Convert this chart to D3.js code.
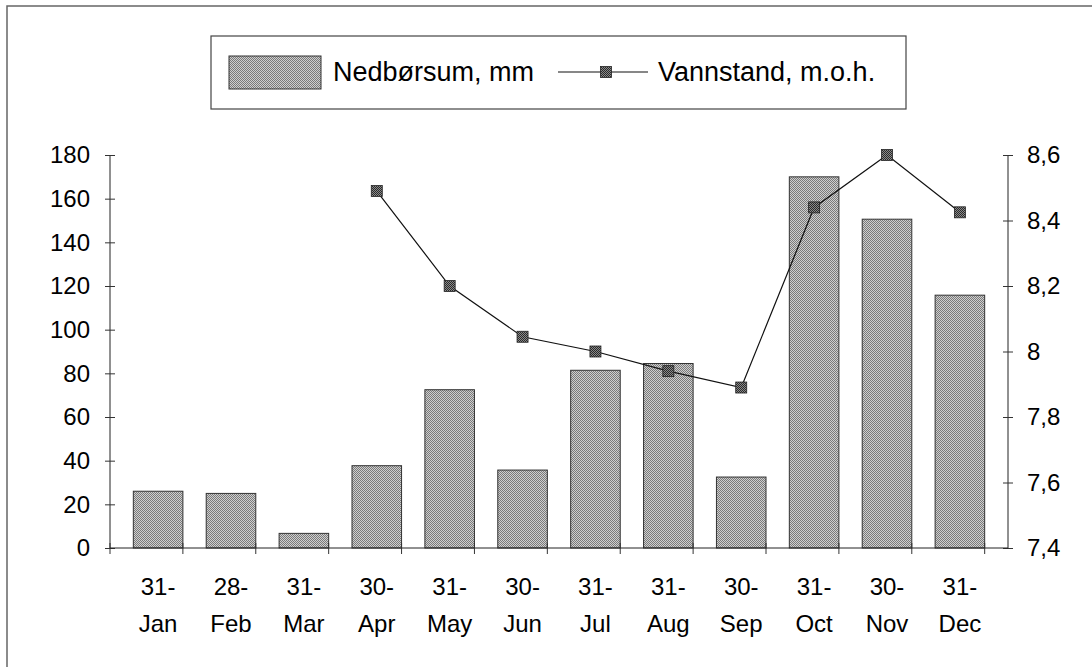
<!DOCTYPE html>
<html>
<head>
<meta charset="utf-8">
<script src="https://cdn.jsdelivr.net/npm/d3@7"></script>
<style>
  body { margin: 0; background: #fff; }
  svg { display: block; font-family: "Liberation Sans", Arial, sans-serif; }
</style>
</head>
<body>
<div id="chart"></div>
<script>
// Datos del gráfico
const categories = ["31-Jan", "28-Feb", "31-Mar", "30-Apr", "31-May", "30-Jun",
                    "31-Jul", "31-Aug", "30-Sep", "31-Oct", "30-Nov", "31-Dec"];
const precipitation = [26, 25, 6.7, 37.7, 72.5, 35.7, 81.4, 84.5, 32.5, 170, 150.6, 115.8];
const waterLevel = [null, null, null, 8.49, 8.20, 8.045, 8.0, 7.94, 7.89, 8.44, 8.60, 8.425];
const leftTicks = [0, 20, 40, 60, 80, 100, 120, 140, 160, 180];
const rightTicks = [7.4, 7.6, 7.8, 8.0, 8.2, 8.4, 8.6];
const seriesNames = ["Nedbørsum, mm", "Vannstand, m.o.h."];

const W = 1092, H = 667;
const plot = { left: 110, right: 1008, top: 155, bottom: 548 };

const svg = d3.select("#chart")
    .append("svg")
    .attr("width", W)
    .attr("height", H);

// Patrón gris tramado para las barras y marcadores
const defs = svg.append("defs");
const barPat = defs.append("pattern")
    .attr("id", "barFill")
    .attr("patternUnits", "userSpaceOnUse")
    .attr("width", 2).attr("height", 2);
barPat.append("rect").attr("width", 2).attr("height", 2).attr("fill", "#cfcfcf");
barPat.append("rect").attr("width", 1).attr("height", 1).attr("fill", "#7a7a7a");
barPat.append("rect").attr("x", 1).attr("y", 1).attr("width", 1).attr("height", 1).attr("fill", "#7a7a7a");

const markPat = defs.append("pattern")
    .attr("id", "markFill")
    .attr("patternUnits", "userSpaceOnUse")
    .attr("width", 2).attr("height", 2);
markPat.append("rect").attr("width", 2).attr("height", 2).attr("fill", "#8a8a8a");
markPat.append("rect").attr("width", 1).attr("height", 1).attr("fill", "#2a2a2a");
markPat.append("rect").attr("x", 1).attr("y", 1).attr("width", 1).attr("height", 1).attr("fill", "#2a2a2a");

svg.append("rect").attr("width", W).attr("height", H).attr("fill", "#fff");

// Marco exterior (sólo se ven los bordes izquierdo y superior)
svg.append("rect")
    .attr("x", 7).attr("y", 6)
    .attr("width", W + 20).attr("height", H + 20)
    .attr("fill", "none")
    .attr("stroke", "#666")
    .attr("stroke-width", 1.5);

// Escalas
const x = d3.scaleBand()
    .domain(categories)
    .range([plot.left, plot.right])
    .padding(0.32);

const y = d3.scaleLinear()
    .domain([0, 180])
    .range([plot.bottom, plot.top]);

const y2 = d3.scaleLinear()
    .domain([7.4, 8.6])
    .range([plot.bottom, plot.top]);

// Barras
svg.selectAll(".bar")
    .data(precipitation)
    .enter()
    .append("rect")
    .attr("class", "bar")
    .attr("x", (d, i) => x(categories[i]))
    .attr("y", d => y(d))
    .attr("width", x.bandwidth())
    .attr("height", d => y(0) - y(d))
    .attr("fill", "url(#barFill)")
    .attr("stroke", "#333")
    .attr("stroke-width", 1);

// Eje izquierdo
const fmtComma = d => String(d3.format(".1~f")(d)).replace(".", ",");

const leftAxis = svg.append("g")
    .attr("transform", `translate(${plot.left},0)`)
    .call(d3.axisLeft(y).tickValues(leftTicks).tickSize(5).tickPadding(15));
leftAxis.select(".domain").attr("stroke", "#222").attr("d", `M0,${plot.bottom}V${plot.top}`);
leftAxis.selectAll(".tick line").attr("x1", -5).attr("x2", 5).attr("stroke", "#333");
leftAxis.selectAll(".tick text")
    .attr("x", -20)
    .style("font-size", "24px")
    .attr("fill", "#000");

// Eje derecho
const rightAxis = svg.append("g")
    .attr("transform", `translate(${plot.right},0)`)
    .call(d3.axisRight(y2).tickValues(rightTicks).tickFormat(fmtComma).tickSize(5));
rightAxis.select(".domain").attr("stroke", "#222").attr("d", `M0,${plot.bottom}V${plot.top}`);
rightAxis.selectAll(".tick line").attr("x1", -5).attr("x2", 5).attr("stroke", "#333");
rightAxis.selectAll(".tick text")
    .attr("x", 19)
    .style("font-size", "24px")
    .attr("fill", "#000");

// Eje inferior: línea base, marcas entre categorías y etiquetas en dos líneas
svg.append("line")
    .attr("x1", plot.left).attr("x2", plot.right)
    .attr("y1", y(0)).attr("y2", y(0))
    .attr("stroke", "#222");

const boundaries = d3.range(categories.length + 1);
svg.selectAll(".xtick")
    .data(boundaries)
    .enter()
    .append("line")
    .attr("class", "xtick")
    .attr("x1", i => plot.left + i * x.step())
    .attr("x2", i => plot.left + i * x.step())
    .attr("y1", y(0) - 5)
    .attr("y2", y(0) + 6)
    .attr("stroke", "#333");

const xLabels = svg.selectAll(".xlabel")
    .data(categories)
    .enter()
    .append("text")
    .attr("class", "xlabel")
    .attr("text-anchor", "middle")
    .style("font-size", "24px")
    .attr("fill", "#000");
xLabels.append("tspan")
    .attr("x", d => x(d) + x.bandwidth() / 2)
    .attr("y", 595)
    .text(d => d.split("-")[0] + "-");
xLabels.append("tspan")
    .attr("x", d => x(d) + x.bandwidth() / 2)
    .attr("y", 632)
    .text(d => d.split("-")[1]);

// Línea de nivel de agua
const lineData = waterLevel.map((v, i) => ({ cat: categories[i], v: v }));
const line = d3.line()
    .defined(d => d.v !== null)
    .x(d => x(d.cat) + x.bandwidth() / 2)
    .y(d => y2(d.v));

svg.append("path")
    .datum(lineData)
    .attr("fill", "none")
    .attr("stroke", "#111")
    .attr("stroke-width", 1.2)
    .attr("d", line);

const ms = 11;
svg.selectAll(".marker")
    .data(lineData.filter(d => d.v !== null))
    .enter()
    .append("rect")
    .attr("class", "marker")
    .attr("x", d => x(d.cat) + x.bandwidth() / 2 - ms / 2)
    .attr("y", d => y2(d.v) - ms / 2)
    .attr("width", ms)
    .attr("height", ms)
    .attr("fill", "url(#markFill)")
    .attr("stroke", "#222")
    .attr("stroke-width", 0.8);

// Leyenda
const legend = svg.append("g");
legend.append("rect")
    .attr("x", 211).attr("y", 36)
    .attr("width", 695).attr("height", 73)
    .attr("fill", "#fff")
    .attr("stroke", "#444")
    .attr("stroke-width", 1.2);

legend.append("rect")
    .attr("x", 229).attr("y", 56)
    .attr("width", 92).attr("height", 33)
    .attr("fill", "url(#barFill)")
    .attr("stroke", "#333");

legend.append("text")
    .attr("x", 333).attr("y", 81)
    .style("font-size", "27px")
    .attr("fill", "#000")
    .text(seriesNames[0]);

legend.append("line")
    .attr("x1", 558).attr("x2", 648)
    .attr("y1", 72).attr("y2", 72)
    .attr("stroke", "#111")
    .attr("stroke-width", 1.2);

legend.append("rect")
    .attr("x", 606 - ms / 2).attr("y", 72 - ms / 2)
    .attr("width", ms).attr("height", ms)
    .attr("fill", "url(#markFill)")
    .attr("stroke", "#222")
    .attr("stroke-width", 0.8);

legend.append("text")
    .attr("x", 658).attr("y", 81)
    .style("font-size", "27px")
    .attr("fill", "#000")
    .text(seriesNames[1]);
</script>
</body>
</html>
